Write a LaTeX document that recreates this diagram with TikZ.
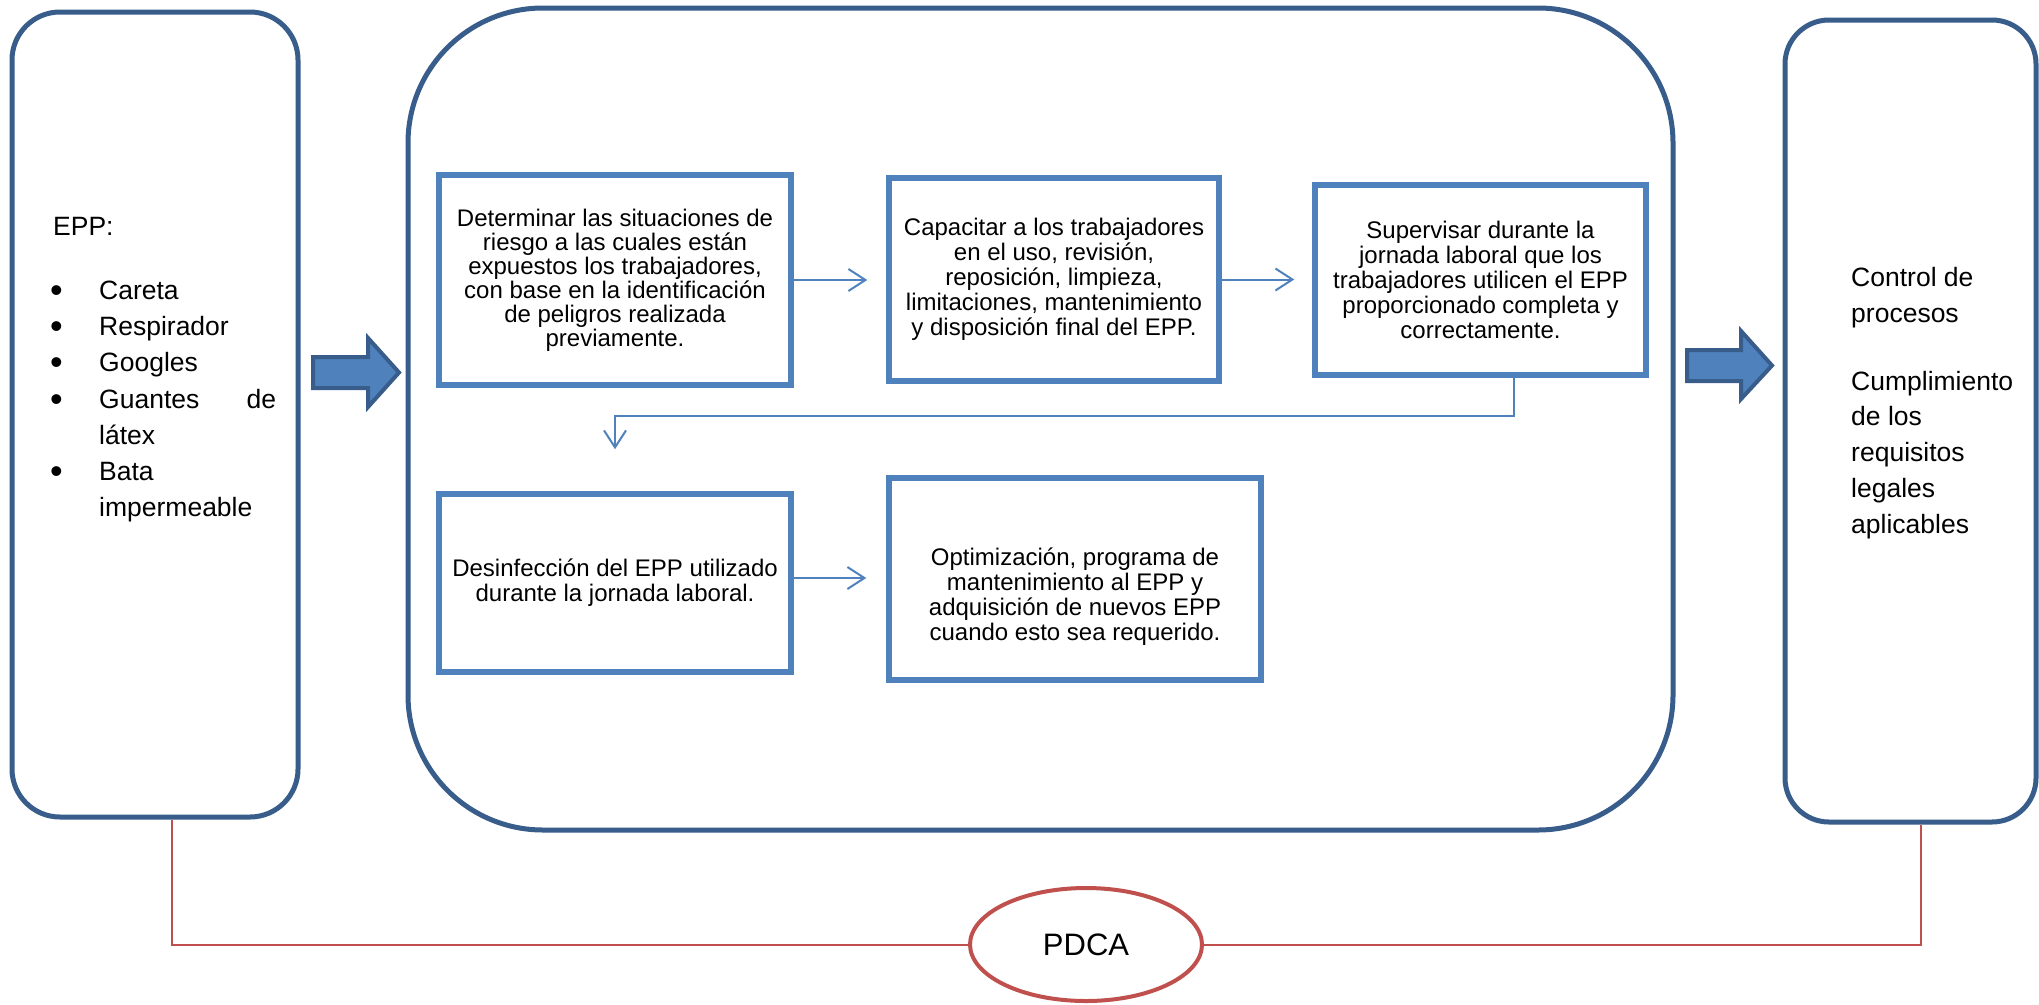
\documentclass[tikz,border=0pt]{standalone}
\usepackage{fontspec}
\setmainfont{Liberation Sans}
\usetikzlibrary{arrows.meta,shapes.geometric}
\definecolor{outerblue}{HTML}{385D8A}
\definecolor{innerblue}{HTML}{4F81BD}
\definecolor{pdcared}{HTML}{C0504D}
\begin{document}
\begin{tikzpicture}[x=1pt,y=-1pt,
  outerbox/.style={draw=outerblue,line width=5pt,fill=white,inner sep=0pt},
  stepbox/.style={draw=innerblue,line width=5.5pt,fill=white,inner sep=0pt,align=center,font=\fontsize{24}{25}\selectfont},
  steptext/.style={inner sep=0pt,align=center,font=\fontsize{24}{25}\selectfont},
  flow/.style={draw=innerblue,line width=2pt,-{Straight Barb[length=17pt,width=22pt]}},
  blockarrow/.style={draw=outerblue,line width=4pt,fill=innerblue,line join=miter},
  sidetext/.style={anchor=base west,inner sep=0pt,font=\fontsize{26.5}{36}\selectfont},
  bul/.style={anchor=base west,inner sep=0pt,font=\fontsize{36}{36}\selectfont},
  redline/.style={draw=pdcared,line width=2pt}
]
\useasboundingbox (0,0) rectangle (2039,1004);
\fill[white] (0,0) rectangle (2039,1004);

% outer boxes
\node[outerbox,rounded corners=48pt,minimum width=286pt,minimum height=805pt] (epp) at (155,414.5) {};
\node[outerbox,rounded corners=135pt,minimum width=1265pt,minimum height=822pt] (proc) at (1040.5,419) {};
\node[outerbox,rounded corners=44pt,minimum width=251pt,minimum height=802pt] (ctrl) at (1910.5,421) {};

% left box text
\node[sidetext] (t0) at (53,235) {EPP:};
\node[bul] (u1) at (50,302) {\textbullet};
\node[sidetext] (l1) at (99,299) {Careta};
\node[bul] (u2) at (50,338) {\textbullet};
\node[sidetext] (l2) at (99,335) {Respirador};
\node[bul] (u3) at (50,374) {\textbullet};
\node[sidetext] (l3) at (99,371) {Googles};
\node[bul] (u4) at (50,411) {\textbullet};
\node[sidetext] (l4) at (99,408) {\hbox to 177pt{Guantes\hfil de}};
\node[sidetext] (l5) at (99,444) {látex};
\node[bul] (u6) at (50,483) {\textbullet};
\node[sidetext] (l6) at (99,480) {Bata};
\node[sidetext] (l7) at (99,516) {impermeable};

% right box text
\node[sidetext] (r1) at (1851,286) {Control de};
\node[sidetext] (r2) at (1851,322) {procesos};
\node[sidetext] (r3) at (1851,390) {Cumplimiento};
\node[sidetext] (r4) at (1851,425) {de los};
\node[sidetext] (r5) at (1851,461) {requisitos};
\node[sidetext] (r6) at (1851,497) {legales};
\node[sidetext] (r7) at (1851,533) {aplicables};

% inner step boxes
\node[stepbox,minimum width=352pt,minimum height=210pt,font=\fontsize{24}{24}\selectfont] (b1) at (615,280)
  {Determinar las situaciones de\\riesgo a las cuales están\\expuestos los trabajadores,\\con base en la identificación\\de peligros realizada\\previamente.};
\node[stepbox,minimum width=330pt,minimum height=203pt] (b2) at (1054,279.5)
  {Capacitar a los trabajadores\\en el uso, revisión,\\reposición, limpieza,\\limitaciones, mantenimiento\\y disposición final del EPP.};
\node[stepbox,minimum width=331pt,minimum height=190pt] (b3) at (1480.5,280)
  {Supervisar durante la\\jornada laboral que los\\trabajadores utilicen el EPP\\proporcionado completa y\\correctamente.};
\node[stepbox,minimum width=352pt,minimum height=178pt] (b4) at (615,583)
  {Desinfección del EPP utilizado\\durante la jornada laboral.};
\node[stepbox,minimum width=372pt,minimum height=202pt] (b5) at (1075,579) {};
\node[steptext] (t5) at (1075,597)
  {Optimización, programa de\\mantenimiento al EPP y\\adquisición de nuevos EPP\\cuando esto sea requerido.};

% thin flow arrows
\draw[flow,shorten >=19pt] (b1.east) -- (b1.east -| b2.west);
\draw[flow,shorten >=18pt] (b2.east) -- (b2.east -| b3.west);
\coordinate (c34) at (1514,416);
\draw[flow,shorten >=42pt] (b3.south -| c34) -- (c34) -| (b4.north);
\draw[flow,shorten >=20pt] ([yshift=5pt]b4.east) -- ([yshift=5pt]b4.east -| b5.west);

% block arrows
\draw[blockarrow] (313,357) -- (368,357) -- (368,338) -- (399,372.5) -- (368,407) -- (368,388) -- (313,388) -- cycle;
\draw[blockarrow] (1687,350) -- (1741,350) -- (1741,331) -- (1772,365.5) -- (1741,399) -- (1741,381) -- (1687,381) -- cycle;

% PDCA
\node[ellipse,draw=pdcared,line width=4pt,fill=white,minimum width=232pt,minimum height=113pt,inner sep=0pt,font=\fontsize{31}{36}\selectfont] (pdca) at (1086,944.5) {PDCA};
\coordinate (lx) at (172,0);
\coordinate (rx) at (1921,0);
\draw[redline] (lx |- epp.south) |- (pdca.west);
\draw[redline] (pdca.east) -| (rx |- ctrl.south);
\end{tikzpicture}
\end{document}
